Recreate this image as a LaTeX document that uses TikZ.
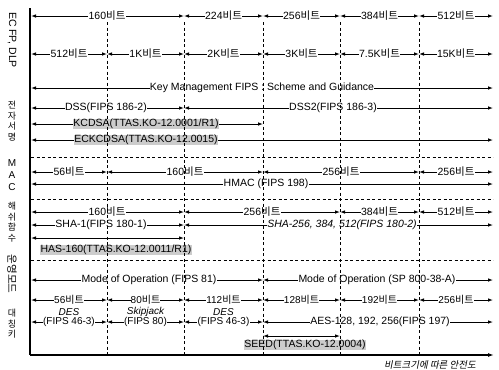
\documentclass[tikz,border=0pt]{standalone}
\usepackage{fontspec}
\setmainfont{Liberation Sans}
\newfontfamily\kr{Noto Sans CJK KR}
\newfontfamily\krit[FakeSlant=0.2]{Noto Sans CJK KR}
\usetikzlibrary{arrows.meta}
\newcommand\bt{{\kr 비트}}
% style, name, y, x1, x2, xlabel, text
\newcommand\seg[7][lab]{%
  \coordinate (#2a) at (#4,#3);
  \coordinate (#2b) at (#5,#3);
  \draw[seg] (#2a) -- (#2b);
  \node[#1] (#2t) at (#6,#3) {#7};}
\begin{document}
\begin{tikzpicture}[x=1pt,y=-1pt,
  seg/.style={{Latex[length=5pt,width=3.6pt]}-{Latex[length=5pt,width=3.6pt]}, line width=0.9pt},
  lab/.style={fill=white, inner sep=0.3pt, font=\fontsize{10.5}{11}\selectfont},
  slab/.style={fill=white, inner sep=0.2pt, font=\fontsize{10}{10}\selectfont},
  ilab/.style={lab, font=\fontsize{10.5}{11}\selectfont\itshape},
  silab/.style={inner sep=0pt, font=\fontsize{10}{10}\selectfont\itshape},
  shd/.style={fill=gray!40, inner sep=0.6pt, font=\fontsize{10.5}{11}\selectfont},
  side/.style={inner sep=0pt, align=center, font=\fontsize{9}{10.5}\selectfont\kr},
  vdash/.style={dash pattern=on 3pt off 2.5pt, line width=0.9pt},
  axis/.style={line width=1.2pt}]
\useasboundingbox (0,0) rectangle (499,370);

% axes
\coordinate (ax-top) at (30,8);
\coordinate (ax-org) at (30,355);
\coordinate (ax-end) at (494,355);
\draw[axis] (ax-top) -- (ax-org);
\draw[axis,-{Latex[length=6pt,width=4pt]}] (ax-org) -- (ax-end);
\node[font=\fontsize{9.5}{10}\selectfont\krit, inner sep=0pt] (xlabel) at (430,365) {비트크기에 따른 안전도};

% side labels
\node[inner sep=0pt, rotate=-90, font=\fontsize{10.5}{11}\selectfont] (l-ec) at (12,40) {EC FP, DLP};
\node[side] (l-ds) at (12,121) {전\\자\\서\\명};
\node[side, font=\fontsize{10}{12}\selectfont] (l-mac) at (12,175) {M\\A\\C};
\node[side] (l-hash) at (12,222) {해\\쉬\\함\\수};
\node[inner sep=0pt, rotate=-90, font=\fontsize{10.5}{11}\selectfont\kr] (l-mode) at (12,274) {운영모드};
\node[side] (l-sym) at (12,324) {대\\칭\\키};

% row 1
\seg{r1s1}{16}{31}{184}{107}{160\bt}
\seg{r1s2}{16}{184}{263}{223.5}{224\bt}
\seg{r1s3}{16}{263}{340}{301.5}{256\bt}
\seg{r1s4}{16}{340}{419}{379.5}{384\bt}
\seg{r1s5}{16}{419}{493}{456}{512\bt}
% row 2
\seg{r2s1}{54}{31}{107}{69}{512\bt}
\seg{r2s2}{54}{107}{184}{145.5}{1K\bt}
\seg{r2s3}{54}{184}{263}{223.5}{2K\bt}
\seg{r2s4}{54}{263}{340}{301.5}{3K\bt}
\seg{r2s5}{54}{340}{419}{379.5}{7.5K\bt}
\seg{r2s6}{54}{419}{493}{456}{15K\bt}
% row 3
\seg{r3s1}{88}{31}{493}{262}{Key Management FIPS : Scheme and Guidance}
% row 4
\seg{r4s1}{108}{31}{184}{106}{DSS(FIPS 186-2)}
\seg{r4s2}{108}{184}{493}{333}{DSS2(FIPS 186-3)}
% rows 5,6
\seg[shd]{r5s1}{124}{31}{263}{146}{KCDSA(TTAS.KO-12.0001/R1)}
\seg[shd]{r6s1}{140}{31}{493}{146}{ECKCDSA(TTAS.KO-12.0015)}
% MAC
\seg{r7s1}{172}{31}{107}{69}{56\bt}
\seg{r7s2}{172}{107}{263}{185}{160\bt}
\seg{r7s3}{172}{263}{419}{341}{256\bt}
\seg{r7s4}{172}{419}{493}{456}{256\bt}
\seg{r8s1}{184}{31}{493}{266}{HMAC (FIPS 198)}
% hash
\seg{r9s1}{212}{31}{184}{107}{160\bt}
\seg{r9s2}{212}{184}{340}{262}{256\bt}
\seg{r9s3}{212}{340}{419}{379.5}{384\bt}
\seg{r9s4}{212}{419}{493}{456}{512\bt}
\seg{r10s1}{225}{31}{184}{101}{SHA-1(FIPS 180-1)}
\seg[ilab]{r10s2}{225}{184}{493}{342}{SHA-256, 384, 512(FIPS 180-2)}
\coordinate (r11a) at (31,238);
\coordinate (r11b) at (184,238);
\draw[seg] (r11a) -- (r11b);
\node[shd] (r11t) at (116,250) {HAS-160(TTAS.KO-12.0011/R1)};
% modes
\seg{r12s1}{280}{31}{263}{149}{Mode of Operation (FIPS 81)}
\seg{r12s2}{280}{263}{493}{377}{Mode of Operation (SP 800-38-A)}
% symmetric
\seg[slab]{r13s1}{300}{31}{107}{69}{56\bt}
\seg[slab]{r13s2}{300}{107}{184}{145.5}{80\bt}
\seg[slab]{r13s3}{300}{184}{263}{223.5}{112\bt}
\seg[slab]{r13s4}{300}{263}{340}{301.5}{128\bt}
\seg[slab]{r13s5}{300}{340}{419}{379.5}{192\bt}
\seg[slab]{r13s6}{300}{419}{493}{456}{256\bt}
\seg[slab]{r14s1}{322}{31}{107}{69}{(FIPS 46-3)}
\node[silab] (r14n1) at (69,312) {DES};
\seg[slab]{r14s2}{322}{107}{184}{145.5}{(FIPS 80)}
\node[silab] (r14n2) at (145.5,312) {Skipjack};
\seg[slab]{r14s3}{322}{184}{263}{223.5}{(FIPS 46-3)}
\node[silab] (r14n3) at (223.5,312) {DES};
\seg{r14s4}{322}{263}{493}{380}{AES-128, 192, 256(FIPS 197)}
\coordinate (r15a) at (263,336);
\coordinate (r15b) at (340,336);
\draw[seg] (r15a) -- (r15b);
\node[shd] (r15t) at (305,345) {SEED(TTAS.KO-12.0004)};

% dashed separators
\foreach \yy [count=\i] in {157,199,260}{
  \coordinate (h\i a) at (31,\yy);
  \coordinate (h\i b) at (493,\yy);
  \draw[vdash] (h\i a) -- (h\i b);
}
\foreach \xx [count=\i] in {107,184,263,340,419}{
  \coordinate (v\i a) at (\xx,22);
  \coordinate (v\i b) at (\xx,354);
  \draw[vdash] (v\i a) -- (v\i b);
}
\end{tikzpicture}
\end{document}
